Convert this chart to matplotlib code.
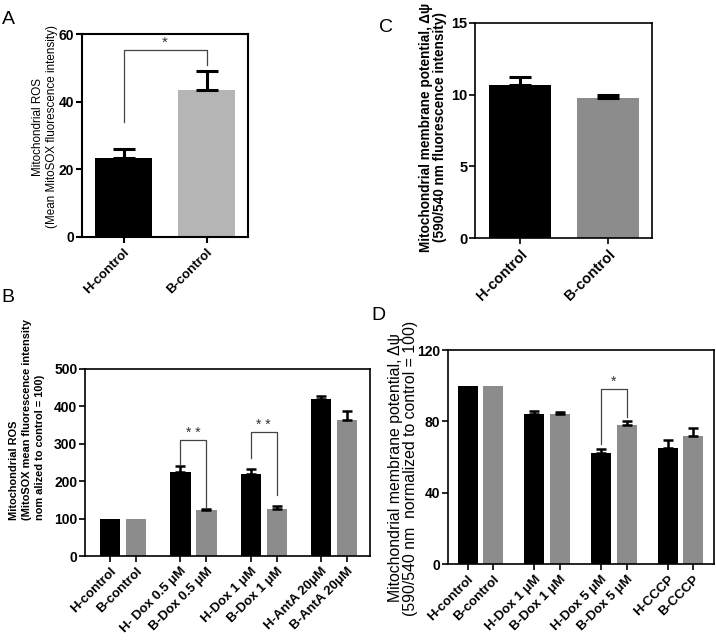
import matplotlib
matplotlib.use("Agg")
import matplotlib.pyplot as plt
import numpy as np

plt.rcParams['font.family'] = ['Liberation Sans', 'DejaVu Sans']

# ---------------- data ----------------
a_labels = ["H-control", "B-control"]
a_values = [23.3, 43.5]
a_errors = [2.8, 5.5]

c_labels = ["H-control", "B-control"]
c_values = [10.7, 9.8]
c_errors = [0.5, 0.2]

b_labels = ["H-control", "B-control", "H- Dox 0.5 μM", "B-Dox 0.5 μM",
            "H-Dox 1 μM", "B-Dox 1 μM", "H-AntA 20μM", "B-AntA 20μM"]
b_values = [100, 100, 225, 123, 220, 126, 420, 363]
b_errors = [0, 0, 15, 2, 13, 7, 8, 24]

d_labels = ["H-control", "B-control", "H-Dox 1 μM", "B-Dox 1 μM",
            "H-Dox 5 μM", "B-Dox 5 μM", "H-CCCP", "B-CCCP"]
d_values = [100, 100, 84, 84, 62, 78, 65, 72]
d_errors = [0, 0, 2, 1.5, 2.5, 2, 4.5, 4]

W, H = 716, 640
fig = plt.figure(figsize=(W / 100, H / 100), dpi=100)


def add_ax(left, right, top, bottom):
    return fig.add_axes([left / W, 1 - bottom / H, (right - left) / W, (bottom - top) / H])


def style(ax, lw=1.2, ysize=10):
    for s in ax.spines.values():
        s.set_linewidth(lw)
        s.set_color('black')
    ax.tick_params(direction='out', length=4, width=lw)
    ax.tick_params(axis='y', labelsize=ysize, pad=1.5)
    ax.tick_params(axis='x', pad=2.5)
    for t in ax.get_yticklabels():
        t.set_fontweight('bold')


def xlabels(ax, x, labels, size=9.5):
    ax.set_xticks(x)
    ax.set_xticklabels(labels, rotation=45, ha='right', rotation_mode='anchor',
                       fontsize=size, fontweight='bold')


def errbars(ax, x, vals, errs, lw, cap):
    x = np.asarray(x, dtype=float)
    vals = np.asarray(vals, dtype=float)
    errs = np.asarray(errs, dtype=float)
    m = errs > 0
    ax.errorbar(x[m], vals[m], yerr=[np.zeros(m.sum()), errs[m]], fmt='none',
                ecolor='black', elinewidth=lw, capsize=cap, capthick=lw)


def bracket(ax, x1, x2, ytop, yl, yr, text, ts=10):
    ax.plot([x1, x1, x2, x2], [yl, ytop, ytop, yr], color='#444444', lw=0.9,
            clip_on=False)
    ax.text((x1 + x2) / 2, ytop, text, ha='center', va='bottom', fontsize=ts,
            color='#333333')


# ---------------- Panel A ----------------
axA = add_ax(82, 248, 34, 237)
xa = np.arange(len(a_values))
axA.bar(xa, a_values, width=0.69, color=['black', '#b5b5b5'])
errbars(axA, xa, a_values, a_errors, 2.2, 8)
axA.set_xlim(-0.5, 1.5)
axA.set_ylim(0, 60)
axA.set_yticks([0, 20, 40, 60])
xlabels(axA, xa, a_labels)
style(axA, 1.5)
bracket(axA, 0, 1, 55.3, 34, 50.8, '*', 11)

# ---------------- Panel C ----------------
axC = add_ax(475, 652, 23, 238)
xc = np.arange(len(c_values))
axC.bar(xc, c_values, width=0.70, color=['black', '#8c8c8c'])
errbars(axC, xc, c_values, c_errors, 2.2, 8)
axC.set_xlim(-0.51, 1.5)
axC.set_ylim(0, 15)
axC.set_yticks([0, 5, 10, 15])
xlabels(axC, xc, c_labels, 10.5)
style(axC, 1.2, 10.5)

# ---------------- Panel B ----------------
axB = add_ax(85, 370, 369, 556)
gapB = 2.7
xb = np.array([(i // 2) * gapB + (i % 2) for i in range(len(b_values))])
colors8 = ['black', '#8c8c8c'] * 4
axB.bar(xb, b_values, width=0.78, color=colors8)
errbars(axB, xb, b_values, b_errors, 1.8, 3.5)
axB.set_xlim(xb[0] - 0.96, xb[-1] + 0.88)
axB.set_ylim(0, 500)
axB.set_yticks(range(0, 501, 100))
xlabels(axB, xb, b_labels)
style(axB, 1.2)
bracket(axB, xb[2], xb[3], 310, 243, 128, '* *', 10)
bracket(axB, xb[4], xb[5], 332, 262, 163, '* *', 10)

# ---------------- Panel D ----------------
axD = add_ax(448, 714, 350, 564)
gapD = 2.6
xd = np.array([(i // 2) * gapD + (i % 2) for i in range(len(d_values))])
axD.bar(xd, d_values, width=0.78, color=colors8)
errbars(axD, xd, d_values, d_errors, 1.8, 3.5)
axD.set_xlim(xd[0] - 0.76, xd[-1] + 0.8)
axD.set_ylim(0, 120)
axD.set_yticks([0, 40, 80, 120])
xlabels(axD, xd, d_labels)
style(axD, 1.2)
bracket(axD, xd[4], xd[5], 98, 67.3, 82.6, '*', 10)

# ---------------- y labels ----------------
fig.text(45 / W, 1 - 127 / H,
         "Mitochondrial ROS\n(Mean MitoSOX fluorescence intensity)",
         rotation=90, ha='center', va='center', multialignment='center',
         fontsize=8.4, linespacing=1.25)
fig.text(433 / W, 1 - 127 / H,
         "Mitochondrial membrane potential, Δψ\n(590/540 nm fluorescence intensity)",
         rotation=90, ha='center', va='center', multialignment='center',
         fontsize=9.8, fontweight='bold', linespacing=0.95)
fig.text(27 / W, 1 - 520 / H,
         "Mitochondrial ROS\n(MitoSOX mean fluorescence intensity\nnom alized to control = 100)",
         rotation=90, ha='center', va='bottom', multialignment='left',
         fontsize=7.9, fontweight='bold', linespacing=1.35)
fig.text(403 / W, 1 - 468 / H,
         "Mitochondrial membrane potential, Δψ\n(590/540 nm  normalized to control = 100)",
         rotation=90, ha='center', va='center', multialignment='center',
         fontsize=11.4, linespacing=0.95)

# ---------------- panel letters ----------------
for letter, px, py in [("A", 8, 20), ("C", 386, 28), ("B", 8, 297), ("D", 378, 316)]:
    fig.text(px / W, 1 - py / H, letter, fontsize=14, ha='center', va='center')

fig.savefig("out.png", dpi=100)
